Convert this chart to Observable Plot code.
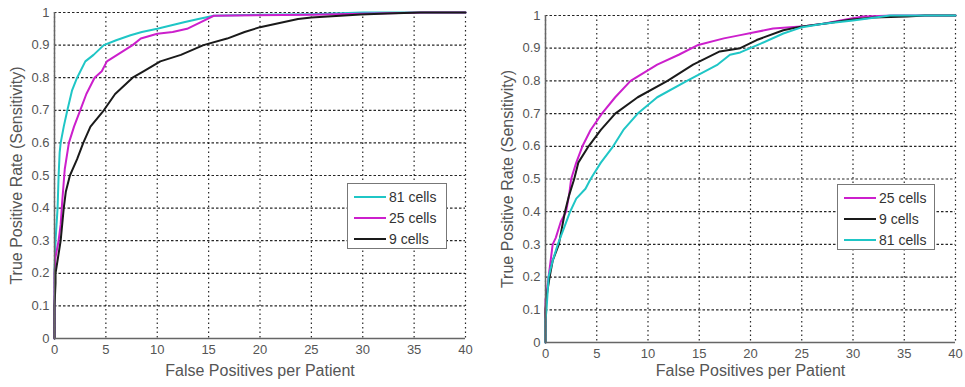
<!DOCTYPE html>
<html>
<head>
<meta charset="utf-8">
<script src="https://cdn.jsdelivr.net/npm/d3@7"></script>
<script src="https://cdn.jsdelivr.net/npm/@observablehq/plot@0.6"></script>
<style>
  html, body { margin: 0; padding: 0; background: #fff; }
  #wrap { position: relative; width: 965px; height: 387px; font-family: "Liberation Sans", Arial, sans-serif; }
  .panel { position: absolute; top: 0; }
  .panel g[aria-label="x-axis label"], .panel g[aria-label="x-axis label"] text,
  .panel g[aria-label="y-axis label"], .panel g[aria-label="y-axis label"] text { font-size: 16px; fill: #555; }
  .legend { position: absolute; background: #fff; border: 1px solid #777; box-sizing: border-box; }
  .legend .row { position: absolute; left: 0; height: 20px; display: flex; align-items: center; font-size: 14px; color: #333; }
  .legend .sw { width: 32px; height: 2px; margin-left: 6px; margin-right: 3px; }
</style>
</head>
<body>
<div id="wrap"></div>
<script>
// ---------- data ----------
const xTicks = [0, 5, 10, 15, 20, 25, 30, 35, 40];
const yTicks = [0, 0.1, 0.2, 0.3, 0.4, 0.5, 0.6, 0.7, 0.8, 0.9, 1];
const xLabel = "False Positives per Patient";
const yLabel = "True Positive Rate (Sensitivity)";

// left panel: [false positives per patient, sensitivity]
const left81 = [[0,0],[0,0.2],[0.05,0.25],[0.1,0.3],[0.3,0.4],[0.4,0.5],[0.5,0.57],[0.6,0.6],[0.9,0.65],[1.25,0.7],[1.7,0.76],[2.2,0.8],[3,0.85],[3.8,0.87],[4.8,0.9],[6,0.915],[7.4,0.93],[8.5,0.94],[10,0.95],[11.3,0.96],[12.6,0.97],[14,0.98],[15.5,0.99],[20,0.993],[25,0.995],[30,1],[40,1]];
const left25 = [[0,0],[0,0.2],[0.1,0.25],[0.4,0.3],[0.6,0.35],[0.75,0.42],[0.9,0.48],[1.0,0.52],[1.4,0.6],[1.9,0.65],[2.5,0.7],[3.1,0.75],[3.9,0.8],[4.6,0.82],[5.1,0.85],[6.6,0.88],[7.6,0.9],[8.4,0.92],[10,0.935],[11.5,0.94],[12.9,0.95],[14.2,0.97],[15.5,0.99],[25,0.993],[36,1],[40,1]];
const left9 = [[0,0],[0,0.1],[0.1,0.17],[0.1,0.2],[0.6,0.3],[0.9,0.4],[1.1,0.45],[1.5,0.5],[2.2,0.55],[2.8,0.6],[3.5,0.65],[4.8,0.7],[5.9,0.75],[7.6,0.8],[8.7,0.82],[10.3,0.85],[12.3,0.87],[14.5,0.9],[16.8,0.92],[18.5,0.94],[20,0.955],[23.7,0.98],[25,0.985],[29.8,0.994],[32.4,0.997],[35.6,1],[40,1]];

// right panel
const right25 = [[0,0],[0,0.13],[0.1,0.15],[0.3,0.2],[0.5,0.25],[0.7,0.3],[1.0,0.32],[1.5,0.37],[2.0,0.4],[2.3,0.45],[2.5,0.5],[3.0,0.55],[3.6,0.6],[4.4,0.65],[5.5,0.7],[6.8,0.75],[8.3,0.8],[10.9,0.85],[13,0.88],[14.9,0.91],[17.4,0.93],[19,0.94],[22.2,0.96],[24.9,0.966],[27.1,0.975],[29.7,0.99],[31,0.997],[34,1],[40,1]];
const right9 = [[0,0],[0,0.1],[0.15,0.15],[0.4,0.2],[0.7,0.25],[1.3,0.3],[1.6,0.35],[1.9,0.4],[2.3,0.45],[2.8,0.5],[3.2,0.55],[4.2,0.6],[5.4,0.65],[6.8,0.7],[9,0.75],[11.9,0.8],[14.4,0.85],[17,0.89],[19,0.9],[20.6,0.925],[23.2,0.955],[24.9,0.966],[27.5,0.976],[29.7,0.987],[32,0.994],[35.3,0.997],[37,1],[40,1]];
const right81 = [[0,0],[0,0.07],[0.1,0.1],[0.3,0.2],[0.7,0.25],[1.2,0.3],[1.8,0.35],[2.4,0.4],[3.0,0.44],[3.9,0.47],[4.4,0.5],[5.4,0.55],[6.6,0.6],[7.6,0.65],[9,0.7],[10.9,0.75],[13.8,0.8],[16.8,0.85],[18,0.88],[19,0.887],[21,0.914],[23.2,0.945],[24.9,0.963],[27.1,0.975],[30,0.985],[32,0.993],[33.6,1],[40,1]];

const seriesNames = ["81 cells", "25 cells", "9 cells"];
const seriesColors = ["#1fc6c6", "#cc1fcc", "#1a1a1a"];
const leftOrder = ["81 cells", "25 cells", "9 cells"];
const rightOrder = ["25 cells", "9 cells", "81 cells"];

// ---------- build ----------
const colorOf = Object.fromEntries(seriesNames.map((n, i) => [n, seriesColors[i]]));
const toRows = (name, arr) => arr.map(([x, y]) => ({series: name, x, y}));
const fmtY = d => (d === 0 || d === 1) ? String(d) : d.toFixed(1);

function panel(data, opt) {
  return Plot.plot({
    width: opt.width, height: 387,
    marginLeft: opt.ml, marginRight: opt.mr, marginTop: opt.mt, marginBottom: opt.mb,
    style: {fontFamily: '"Liberation Sans", Arial, sans-serif', fontSize: "13px", color: "#555", background: "transparent"},
    x: {domain: [0, 40], ticks: xTicks, tickSize: 0, tickPadding: 6, label: xLabel, labelAnchor: "center", labelArrow: "none", labelOffset: opt.xlo},
    y: {domain: [0, 1], ticks: yTicks, tickSize: 0, tickPadding: 5, tickFormat: fmtY, label: yLabel, labelAnchor: "center", labelArrow: "none", labelOffset: opt.ylo},
    color: {domain: seriesNames, range: seriesColors},
    marks: [
      Plot.gridX(xTicks, {stroke: "#000", strokeOpacity: 0.85, strokeDasharray: "1.5,3", strokeWidth: 1.2}),
      Plot.gridY(yTicks, {stroke: "#000", strokeOpacity: 0.85, strokeDasharray: "2.5,2", strokeWidth: 1.2}),
      Plot.lineY(data, {x: "x", y: "y", z: "series", stroke: "series", strokeWidth: 2, curve: "linear"}),
      Plot.ruleX([0], {stroke: "#666", strokeWidth: 1.5}),
      Plot.ruleY([0], {stroke: "#666", strokeWidth: 1.5})
    ]
  });
}

function legend(order, box) {
  const lg = document.createElement("div");
  lg.className = "legend";
  Object.assign(lg.style, {left: box.x + "px", top: box.y + "px", width: box.w + "px", height: box.h + "px"});
  order.forEach((name, i) => {
    const row = document.createElement("div");
    row.className = "row";
    row.style.top = (3 + i * 21) + "px";
    const sw = document.createElement("span");
    sw.className = "sw";
    sw.style.background = colorOf[name];
    row.appendChild(sw);
    row.appendChild(document.createTextNode(name));
    lg.appendChild(row);
  });
  return lg;
}

const wrap = document.getElementById("wrap");
const leftData = [...toRows("81 cells", left81), ...toRows("25 cells", left25), ...toRows("9 cells", left9)];
const rightData = [...toRows("25 cells", right25), ...toRows("9 cells", right9), ...toRows("81 cells", right81)];

const p1 = panel(leftData, {width: 482, ml: 54, mr: 17, mt: 12, mb: 49, xlo: 37, ylo: 44});
p1.classList.add("panel"); p1.style.left = "0px";
const p2 = panel(rightData, {width: 483, ml: 63, mr: 10, mt: 15, mb: 45, xlo: 33, ylo: 44});
p2.classList.add("panel"); p2.style.left = "482px";
wrap.appendChild(p1);
wrap.appendChild(p2);
wrap.appendChild(legend(leftOrder, {x: 347, y: 183, w: 100, h: 66}));
wrap.appendChild(legend(rightOrder, {x: 837, y: 184, w: 98, h: 66}));
</script>
</body>
</html>
